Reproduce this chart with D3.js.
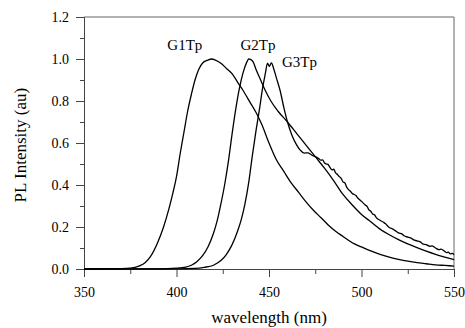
<!DOCTYPE html>
<html>
<head>
<meta charset="utf-8">
<script src="https://cdn.jsdelivr.net/npm/d3@7"></script>
<style>
  body { margin: 0; background: #fff; }
  svg text { font-family: "Liberation Serif", "DejaVu Serif", serif; fill: #000; }
</style>
</head>
<body>
<div id="chart"></div>
<script>
// PL spectra: [wavelength nm, normalised intensity]
var g1tp = [[350,0],[360,0.001],[370,0.002],[375,0.004],[380,0.015],[383,0.03],[386,0.06],[390,0.13],
  [393,0.2],[396,0.29],[398,0.36],[400,0.44],[402,0.55],[404,0.65],[406,0.75],[408,0.83],[410,0.9],
  [412,0.95],[414,0.98],[417,0.995],[419,1.0],[421,0.995],[424,0.98],[427,0.955],[430,0.93],[433,0.89],
  [436,0.85],[440,0.79],[443,0.745],[446,0.69],[450,0.6],[454,0.52],[458,0.465],[462,0.41],[466,0.365],
  [470,0.32],[474,0.28],[478,0.245],[482,0.21],[486,0.18],[490,0.155],[495,0.125],[500,0.105],
  [505,0.086],[510,0.07],[515,0.057],[520,0.046],[525,0.037],[530,0.03],[535,0.025],[540,0.02],
  [545,0.017],[550,0.014]]

var g2tp = [[350,0],[390,0.001],[400,0.004],[405,0.009],[408,0.018],[411,0.035],[414,0.062],[417,0.105],
  [420,0.17],[422,0.23],[424,0.31],[426,0.4],[428,0.51],[430,0.64],[432,0.76],[434,0.86],[436,0.935],
  [438,0.985],[439,1.0],[440,0.998],[441.5,0.985],[443,0.95],[445,0.91],[448,0.85],[451,0.8],[455,0.75],
  [460,0.7],[465,0.645],[470,0.59],[475,0.535],[480,0.48],[485,0.42],[490,0.355],[495,0.305],[500,0.26],
  [505,0.225],[510,0.19],[515,0.163],[520,0.14],[525,0.12],[530,0.102],[535,0.085],[540,0.07],
  [545,0.057],[550,0.045]]

var g3tp = [[350,0],[400,0.001],[410,0.003],[415,0.008],[420,0.018],[424,0.04],[427,0.07],[430,0.115],
  [433,0.18],[435,0.235],[437,0.31],[439,0.41],[441,0.54],[443,0.66],[445,0.77],[446.5,0.86],[448,0.93],
  [449.2,0.98],[450.2,0.965],[451.3,0.982],[452.5,0.955],[454,0.91],[456,0.85],[458,0.77],[460,0.7],
  [462.5,0.635],[465,0.59],[467,0.565],[469,0.552],[471,0.553],[473,0.543],[475,0.535],[477,0.525],
  [478,0.518],[479,0.52],[480,0.505],[481,0.5],[482,0.497],[483,0.483],[484,0.472],[485,0.475],
  [486,0.458],[487,0.45],[488,0.44],[489,0.432],[490,0.415],[491,0.41],[492,0.39],[493,0.378],
  [494,0.37],[495,0.36],[496,0.355],[497,0.35],[498,0.338],[499,0.33],[500,0.322],[502,0.305],
  [503,0.298],[504,0.282],[505,0.275],[506,0.262],[507,0.258],[508,0.245],[510,0.232],[512,0.222],
  [513,0.215],[515,0.198],[517,0.19],[518,0.184],[520,0.172],[522,0.166],[523,0.158],[525,0.152],
  [527,0.146],[528,0.14],[530,0.134],[532,0.128],[533,0.12],[535,0.116],[537,0.108],[538,0.11],
  [540,0.1],[542,0.092],[543,0.095],[545,0.084],[546,0.078],[547,0.08],[548,0.072],[549,0.074],[550,0.068]]

var seriesNames = ["G1Tp", "G2Tp", "G3Tp"]
var xMajor = [350, 400, 450, 500, 550]
var xMinor = [375, 425, 475, 525]
var yMajor = [0, 0.2, 0.4, 0.6, 0.8, 1.0, 1.2]
var yMinor = [0.1, 0.3, 0.5, 0.7, 0.9, 1.1]

var width = 465, height = 328
var x = d3.scaleLinear().domain([350, 550]).range([84, 454])
var y = d3.scaleLinear().domain([0, 1.2]).range([269, 17])

var svg = d3.select("#chart").append("svg")
  .attr("width", width)
  .attr("height", height)

// frame top + right
svg.append("path")
  .attr("d", "M" + x(350) + "," + y(1.2) + "H" + x(550) + "V" + y(0))
  .attr("fill", "none")
  .attr("stroke", "#666")
  .attr("stroke-width", 1)

// y axis
svg.append("g")
  .attr("transform", "translate(" + x(350) + ",0)")
  .call(d3.axisLeft(y).tickValues(yMajor).tickSize(8).tickSizeOuter(0)
    .tickPadding(7).tickFormat(d3.format(".1f")))
svg.append("g")
  .attr("transform", "translate(" + x(350) + ",0)")
  .call(d3.axisLeft(y).tickValues(yMinor).tickSize(4).tickSizeOuter(0).tickFormat(""))

// x axis
svg.append("g")
  .attr("transform", "translate(0," + y(0) + ")")
  .call(d3.axisBottom(x).tickValues(xMajor).tickSize(8).tickSizeOuter(0).tickPadding(10))
svg.append("g")
  .attr("transform", "translate(0," + y(0) + ")")
  .call(d3.axisBottom(x).tickValues(xMinor).tickSize(5).tickSizeOuter(0).tickFormat(""))

svg.selectAll(".domain, .tick line").attr("stroke", "#444")
svg.selectAll(".tick text")
  .style("font-family", "Liberation Serif")
  .style("font-size", "14px")
  .attr("fill", "#000")

// curves
var line = d3.line()
  .x(function(d) { return x(d[0]) })
  .y(function(d) { return y(d[1]) })
  .curve(d3.curveMonotoneX)

svg.selectAll(".spec")
  .data([g1tp, g2tp, g3tp])
  .enter()
  .append("path")
    .attr("class", "spec")
    .attr("d", line)
    .attr("fill", "none")
    .attr("stroke", "#000")
    .attr("stroke-width", 1.3)

// labels beside the peaks
var labelPos = [[404.5, 1.045], [444, 1.045], [466.5, 0.962]]
svg.selectAll(".lab")
  .data(seriesNames)
  .enter()
  .append("text")
    .attr("class", "lab")
    .attr("x", function(d, i) { return x(labelPos[i][0]) })
    .attr("y", function(d, i) { return y(labelPos[i][1]) })
    .attr("text-anchor", "middle")
    .style("font-size", "15px")
    .text(function(d) { return d })

// axis titles
svg.append("text")
  .attr("x", (x(350) + x(550)) / 2)
  .attr("y", 323)
  .attr("text-anchor", "middle")
  .style("font-size", "17px")
  .text("wavelength (nm)")

svg.append("text")
  .attr("transform", "translate(26," + y(0.59) + ") rotate(-90)")
  .attr("text-anchor", "middle")
  .style("font-size", "17px")
  .text("PL Intensity (au)")
</script>
</body>
</html>
